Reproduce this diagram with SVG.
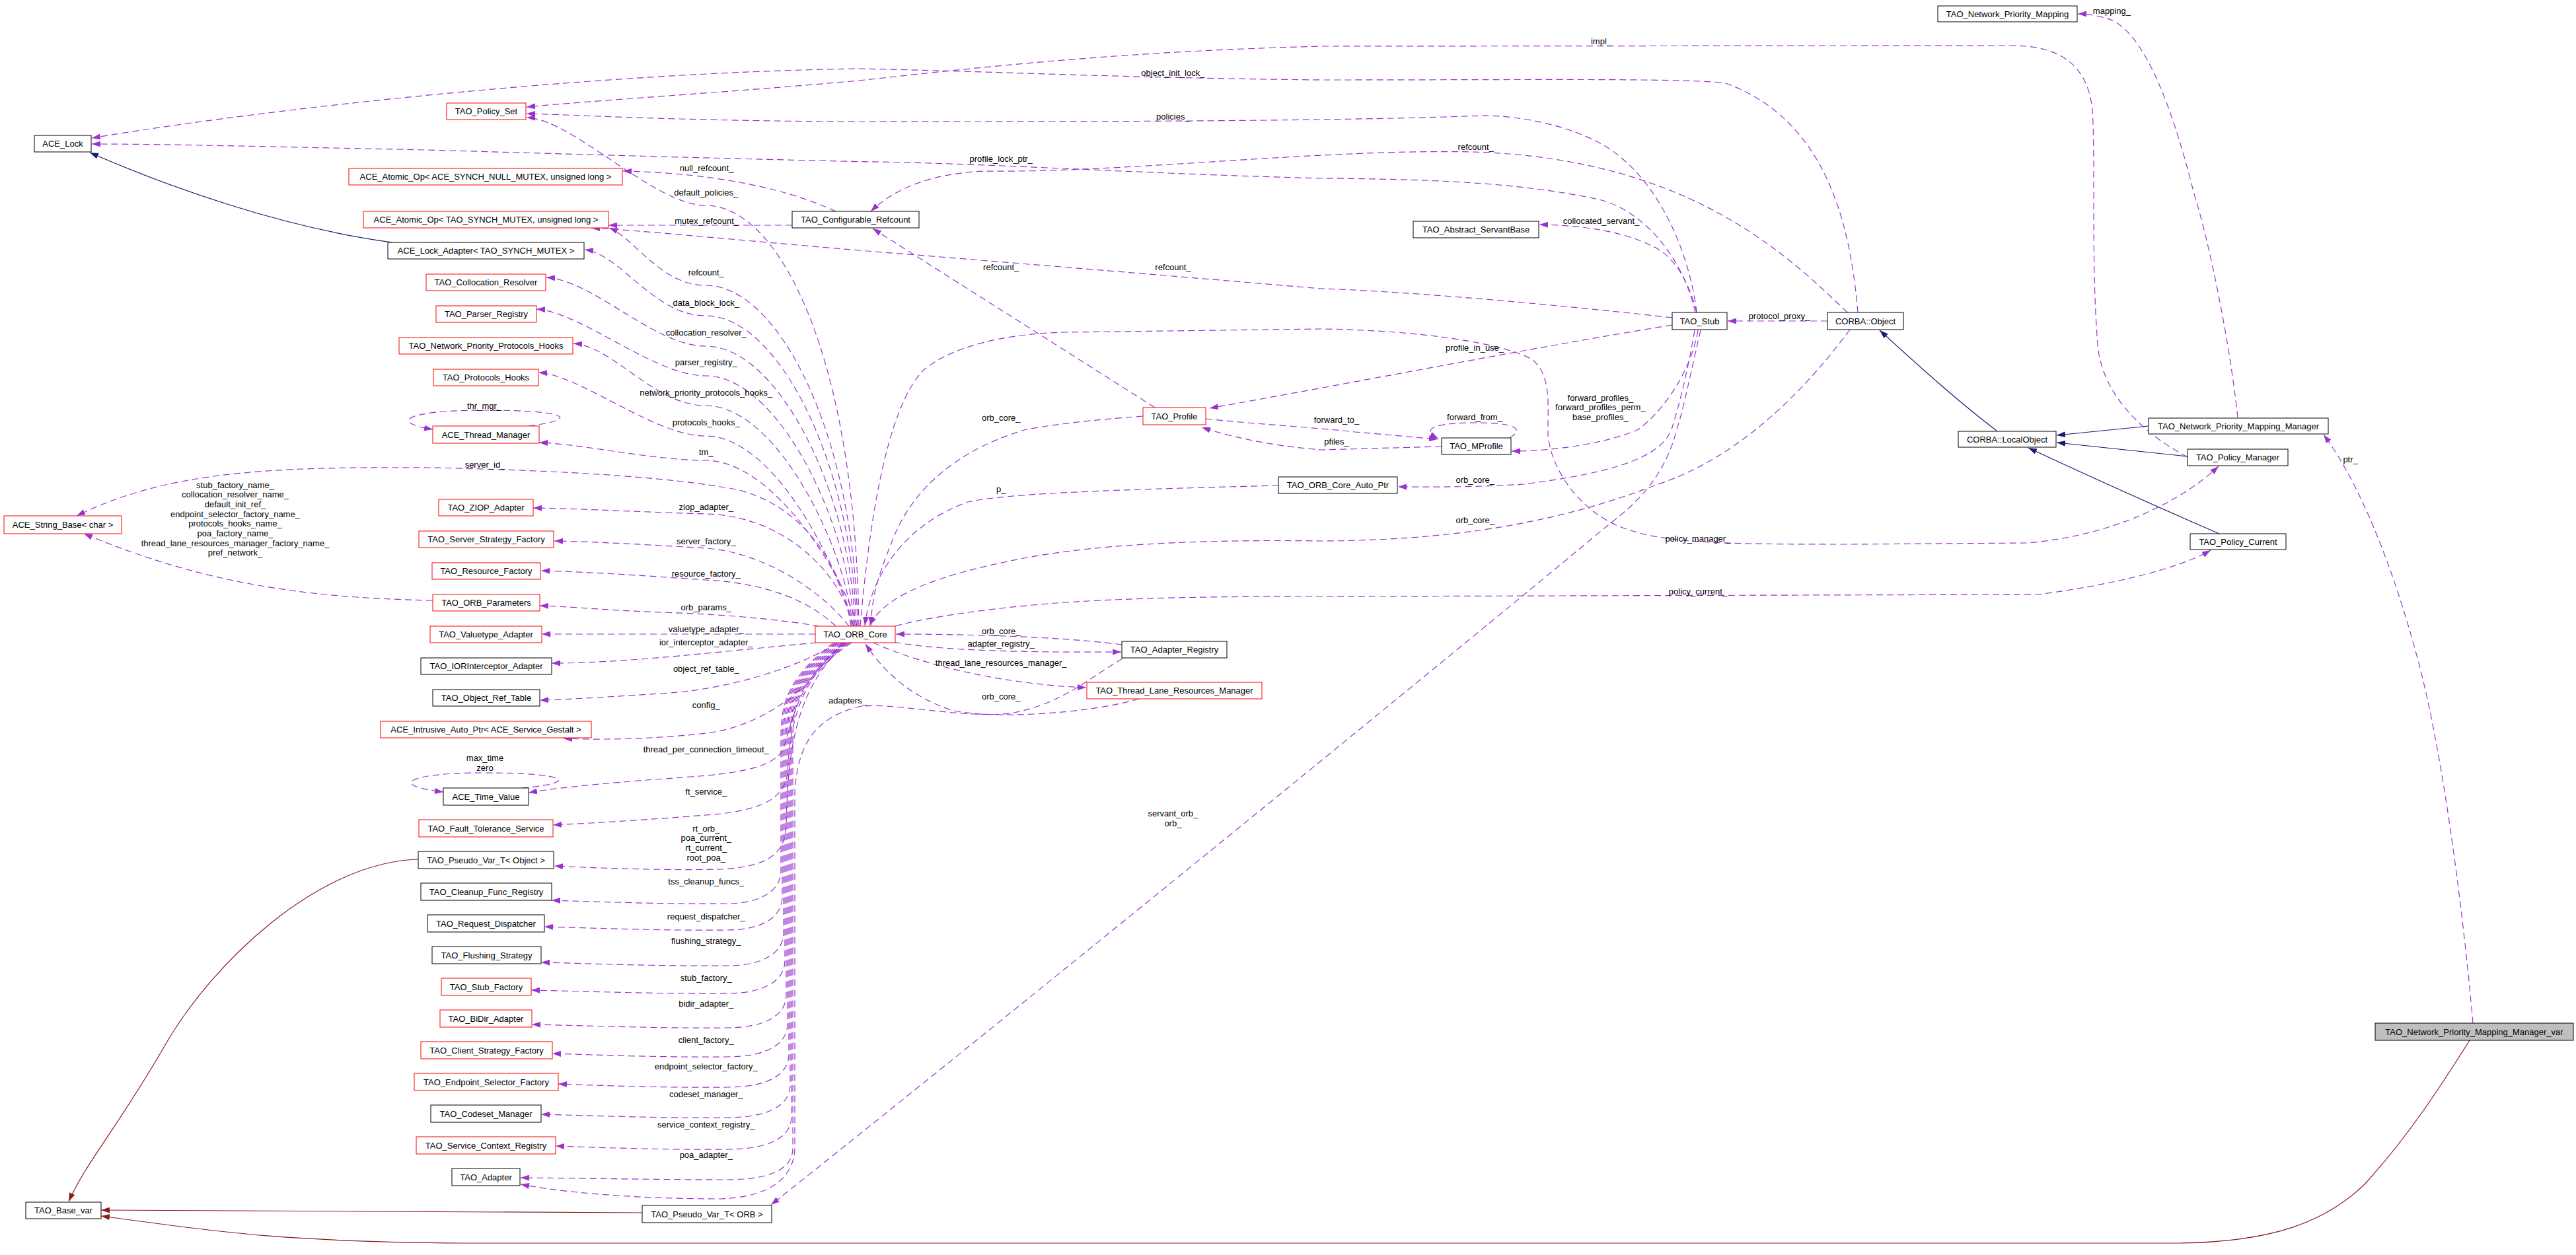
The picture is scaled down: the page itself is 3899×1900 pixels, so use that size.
<svg xmlns="http://www.w3.org/2000/svg" width="3899" height="1900" viewBox="0 0 3899 1900">
<defs>
<style>
.box{fill:#fff;stroke:#000;stroke-width:1}
.red{stroke:#ff0000}
.root{fill:#bfbfbf}
text{font-family:'Liberation Sans',Arial,Helvetica,sans-serif;font-size:13px;fill:#000;text-anchor:middle}
.u{fill:none;stroke:#9a32cd;stroke-width:1.2;stroke-dasharray:10,6;marker-end:url(#au)}
.inh{fill:none;stroke:#191970;stroke-width:1.2;marker-end:url(#ai)}
.pri{fill:none;stroke:#8b1a1a;stroke-width:1.2;marker-end:url(#ar)}
</style>
<marker id="au" viewBox="0 0 13 9" refX="13" refY="4.5" markerWidth="13" markerHeight="9" orient="auto" markerUnits="userSpaceOnUse"><path d="M0,0 L13,4.5 L0,9 z" fill="#9a32cd"/></marker>
<marker id="ai" viewBox="0 0 13 9" refX="13" refY="4.5" markerWidth="13" markerHeight="9" orient="auto" markerUnits="userSpaceOnUse"><path d="M0,0 L13,4.5 L0,9 z" fill="#191970"/></marker>
<marker id="ar" viewBox="0 0 13 9" refX="13" refY="4.5" markerWidth="13" markerHeight="9" orient="auto" markerUnits="userSpaceOnUse"><path d="M0,0 L13,4.5 L0,9 z" fill="#8b1a1a"/></marker>
</defs>
<rect x="0" y="0" width="3899" height="1900" fill="#fff"/>
<g id="edges">
<!-- inheritance -->
<path class="inh" d="M594,367 C430,345 260,285 136,231"/>
<path class="inh" d="M3022,652 C2960,605 2900,550 2845,500"/>
<path class="inh" d="M3252,645 L3113,659"/>
<path class="inh" d="M3311,691 L3113,670"/>
<path class="inh" d="M3359,808 C3260,765 3160,720 3070,678"/>
<!-- private -->
<path class="pri" d="M633,1301 C480,1305 320,1460 250,1582 C180,1704 130,1760 104,1819"/>
<path class="pri" d="M972,1836 L153,1832"/>
<path class="pri" d="M3738,1575 C3700,1635 3650,1715 3579,1793 C3520,1850 3440,1880 3300,1882 L700,1882 C400,1880 300,1860 153,1841"/>
<!-- Configurable_Refcount -->
<path class="u" d="M1265,320 C1190,285 1080,262 943,259"/>
<path class="u" d="M1199,341 L921,341"/>
<path class="u" d="M1748,617 L1321,346"/>
<path class="u" d="M2796,473 C2700,380 2550,240 2230,230 C2000,225 1700,262 1490,259 C1420,262 1360,280 1318,320"/>
<!-- ACE_Lock -->
<path class="u" d="M2812,473 C2800,330 2760,180 2612,126 C2560,118 2300,121 2000,121 C1700,118 1500,108 1300,104 C900,110 400,165 139,209"/>
<path class="u" d="M2566,473 C2545,380 2480,318 2424,303 C2300,275 2150,271 2000,270 C1700,262 1500,247 1300,244.6 C1000,238 700,228 600,226 C400,222 250,218 139,218"/>
<!-- Policy_Set -->
<path class="u" d="M3311,692 C3250,660 3180,600 3175,520 C3165,400 3172,250 3167,166 C3160,100 3120,69 3045,69 L2000,70 C1700,78 1500,100 1300,122 C1100,140 900,152 797,162"/>
<path class="u" d="M2568,473 C2560,400 2520,280 2434,224 C2380,190 2300,175 2245,175 C2000,185 1500,184 1300,184.5 C1000,182 900,175 797,172"/>
<!-- Stub refcount -->
<path class="u" d="M2531,481 C2300,455 2100,440 2000,437 C1800,420 1500,395 1300,379 C1100,362 960,348 895,345"/>
<!-- ORB_Core upper edges -->
<path class="u" d="M1300,948 C1295,540 1180,311 1068,311 C990,311 867,180 797,178"/>
<path class="u" d="M1298,948 C1293,662 1180,432 1068,432 C1000,432 960,360 922,345"/>
<path class="u" d="M1296,948 C1291,708 1180,478 1068,478 C990,478 940,385 885,378"/>
<path class="u" d="M1294,948 C1289,753 1180,524 1068,524 C990,524 900,425 827,420"/>
<path class="u" d="M1292,948 C1287,798 1180,569 1068,569 C990,569 880,472 812,468"/>
<path class="u" d="M1290,948 C1285,844 1180,614 1068,614 C990,614 930,525 868,520"/>
<path class="u" d="M1288,948 C1283,889 1180,660 1068,660 C990,660 880,568 815,564"/>
<path class="u" d="M1297,948 C1290,900 1180,697 1068,697 C990,697 880,672 816,670"/>
<path class="u" d="M1290,948 C1270,840 1200,750 1091,737 C1000,722 850,712 650,708 C400,706 250,715 116,781"/>
<path class="u" d="M1292,948 C1270,860 1180,780 1068,778 C990,776 880,770 807,769"/>
<path class="u" d="M1285,948 C1240,890 1150,835 1068,830 C990,825 900,820 839,819"/>
<path class="u" d="M1265,948 C1220,905 1150,882 1068,878 C980,872 900,866 819,864"/>
<path class="u" d="M1240,948 C1180,938 1100,930 1000,927 C920,924 860,918 817,917"/>
<!-- ORB_Core middle edges -->
<path class="u" d="M1234,960 L820,960"/>
<path class="u" d="M1236,973 C1100,985 950,1004 835,1004"/>
<path class="u" d="M1268,973 C1210,1010 1100,1045 1000,1050 C920,1055 860,1059 817,1060"/>
<path class="u" d="M1275,973 C1220,1050 1150,1100 1069,1110 C980,1120 900,1120 853,1118"/>
<path class="u" d="M1278,973 C1205,1030 1198,1100 1185,1135 C1170,1165 1100,1172 1046,1176 C950,1183 860,1190 800,1200"/>
<path class="u" d="M1280,973 C1200,1035 1195,1120 1192,1170 C1188,1210 1150,1225 1091,1232 C1000,1240 900,1246 837,1249"/>
<path class="u" d="M1283,973 C1200,1040 1192,1150 1190,1250 C1188,1295 1160,1312 1091,1316 C1000,1318 900,1314 839,1311"/>
<!-- ORB_Core lower edges -->
<path class="u" d="M1262,973 C1187,1030 1182,1070 1182,1120 L1182,1318 C1182,1348 1152,1368 1100,1368 C1000,1369 900,1365 835,1363"/>
<path class="u" d="M1265,973 C1189,1030 1184,1070 1184,1120 L1184,1358 C1184,1388 1154,1408 1100,1408 C1000,1409 900,1405 824,1403"/>
<path class="u" d="M1268,973 C1191,1030 1186,1070 1186,1120 L1186,1412 C1186,1442 1156,1462 1100,1462 C1000,1463 900,1459 819,1457"/>
<path class="u" d="M1271,973 C1193,1030 1188,1070 1188,1120 L1188,1454 C1188,1484 1158,1504 1100,1504 C1000,1505 900,1501 804,1499"/>
<path class="u" d="M1274,973 C1195,1030 1190,1070 1190,1120 L1190,1506 C1190,1536 1160,1556 1100,1556 C1000,1557 900,1553 805,1551"/>
<path class="u" d="M1277,973 C1197,1030 1192,1070 1192,1120 L1192,1550 C1192,1580 1162,1600 1100,1600 C1000,1601 900,1597 836,1595"/>
<path class="u" d="M1280,973 C1199,1030 1194,1070 1194,1120 L1194,1596 C1194,1626 1164,1646 1100,1646 C1000,1647 900,1643 845,1641"/>
<path class="u" d="M1283,973 C1201,1030 1196,1070 1196,1120 L1196,1642 C1196,1672 1166,1692 1100,1692 C1000,1693 900,1689 819,1687"/>
<path class="u" d="M1286,973 C1203,1030 1198,1070 1198,1120 L1198,1690 C1198,1720 1168,1740 1100,1740 C1000,1741 900,1737 841,1735"/>
<path class="u" d="M1289,973 C1205,1030 1200,1070 1200,1120 L1200,1738 C1200,1768 1170,1786 1100,1786 C1000,1786 900,1784 788,1783"/>
<!-- adapters_ -->
<path class="u" d="M1699,997 C1650,1025 1610,1065 1530,1080 C1450,1088 1350,1062 1300,1070 C1240,1085 1207,1120 1203,1200 L1203,1740 C1201,1780 1170,1812 1091,1815 C960,1815 850,1805 788,1793"/>
<!-- ORB_Core right side -->
<path class="u" d="M1354,972 C1420,985 1550,988 1697,987"/>
<path class="u" d="M1698,976 C1600,963 1450,960 1356,960"/>
<path class="u" d="M1322,973 C1380,1000 1500,1035 1644,1041"/>
<path class="u" d="M1724,1058 C1650,1080 1500,1090 1440,1075 C1380,1055 1340,1020 1310,975"/>
<path class="u" d="M1935,735 C1750,740 1530,745 1465,760 C1380,790 1320,860 1309,947"/>
<path class="u" d="M1730,630 C1650,636 1600,642 1554,650 C1450,680 1380,740 1350,820 C1330,870 1320,900 1318,947"/>
<path class="u" d="M2800,499 C2740,580 2640,690 2510,733 C2400,775 2250,818 2000,819 C1800,816 1650,826 1550,845 C1420,870 1340,900 1316,947"/>
<path class="u" d="M1302,948 C1315,800 1340,620 1398,560 C1440,525 1520,505 1612,503 L2000,498 C2150,500 2280,520 2320,545 C2350,570 2342,620 2343,660 C2350,720 2400,780 2459,800 C2520,822 2600,824 2800,824 L3070,822 C3200,810 3300,760 3358,706"/>
<path class="u" d="M1355,948 C1400,935 1500,920 1612,912 C1750,903 1900,903 2000,903 L3085,900 C3200,885 3300,860 3346,833"/>
<!-- TAO_Stub edges -->
<path class="u" d="M2568,473 C2555,420 2530,385 2500,372 C2460,352 2400,341 2330,340"/>
<path class="u" d="M2766,486 L2615,486"/>
<path class="u" d="M2531,492 C2300,530 2100,570 1831,618"/>
<path class="u" d="M2570,500 C2560,560 2520,620 2480,650 C2430,672 2350,683 2288,683"/>
<path class="u" d="M2565,500 C2555,560 2540,620 2530,650 C2515,690 2450,715 2306,733 C2230,738 2170,737 2116,737"/>
<path class="u" d="M2574,500 C2560,560 2548,620 2538,650 C2520,720 2480,760 2434,795 C2200,990 1500,1560 1167,1824"/>
<!-- Profile / MProfile -->
<path class="u" d="M1825,634 C1900,642 2000,648 2051,654 C2100,658 2140,662 2176,665"/>
<path class="u" d="M2285,663 C2310,648 2290,640 2232,640 C2170,640 2150,650 2177,664"/>
<path class="u" d="M2182,676 L2000,681 C1947,677 1880,667 1819,647"/>
<!-- right side -->
<path class="u" d="M3387,632 C3375,520 3345,370 3320,290 C3290,170 3250,60 3200,32 C3180,24 3160,21 3145,21"/>
<path class="u" d="M3743,1549 C3730,1400 3700,1150 3660,1000 C3620,850 3570,730 3517,658"/>
<!-- String_Base from ORB_Parameters -->
<path class="u" d="M655,909 C450,905 300,880 127,808"/>
<!-- self loops -->
<path class="u" d="M800,645 C880,635 860,621 734,621 C610,621 590,640 655,650"/>
<path class="u" d="M790,1193 C880,1185 860,1170 734,1170 C610,1170 590,1190 671,1199"/>
<!-- edge labels -->
<text x="1069.6" y="259">null_refcount_</text>
<text x="1068.75" y="296">default_policies_</text>
<text x="1069.6" y="339">mutex_refcount_</text>
<text x="1068.75" y="417">refcount_</text>
<text x="1068.75" y="463">data_block_lock_</text>
<text x="1068.75" y="508">collocation_resolver_</text>
<text x="1068.75" y="553">parser_registry_</text>
<text x="1068.75" y="599">network_priority_protocols_hooks_</text>
<text x="1068.75" y="644">protocols_hooks_</text>
<text x="733" y="619">thr_mgr_</text>
<text x="1068.75" y="689">tm_</text>
<text x="734" y="708">server_id_</text>
<text x="356" y="739">stub_factory_name_</text>
<text x="356" y="753">collocation_resolver_name_</text>
<text x="356" y="768">default_init_ref_</text>
<text x="356" y="783">endpoint_selector_factory_name_</text>
<text x="356" y="797">protocols_hooks_name_</text>
<text x="356" y="812">poa_factory_name_</text>
<text x="356" y="827">thread_lane_resources_manager_factory_name_</text>
<text x="356" y="841">pref_network_</text>
<text x="1068.75" y="772">ziop_adapter_</text>
<text x="1068.75" y="824">server_factory_</text>
<text x="1068.75" y="873">resource_factory_</text>
<text x="1068.75" y="924">orb_params_</text>
<text x="1068.75" y="957">valuetype_adapter_</text>
<text x="1068.75" y="977">ior_interceptor_adapter_</text>
<text x="1068.75" y="1017">object_ref_table_</text>
<text x="1068.75" y="1072">config_</text>
<text x="1068.75" y="1139">thread_per_connection_timeout_</text>
<text x="734" y="1152">max_time</text>
<text x="734" y="1167">zero</text>
<text x="1068.75" y="1203">ft_service_</text>
<text x="1068.75" y="1259">rt_orb_</text>
<text x="1068.75" y="1273">poa_current_</text>
<text x="1068.75" y="1288">rt_current_</text>
<text x="1068.75" y="1303">root_poa_</text>
<text x="1068.75" y="1339">tss_cleanup_funcs_</text>
<text x="1068.75" y="1392">request_dispatcher_</text>
<text x="1068.75" y="1429">flushing_strategy_</text>
<text x="1068.75" y="1485">stub_factory_</text>
<text x="1068.75" y="1524">bidir_adapter_</text>
<text x="1068.75" y="1579">client_factory_</text>
<text x="1068.75" y="1619">endpoint_selector_factory_</text>
<text x="1068.75" y="1661">codeset_manager_</text>
<text x="1068.75" y="1707">service_context_registry_</text>
<text x="1068.75" y="1753">poa_adapter_</text>
<text x="1283" y="1065">adapters_</text>
<text x="1775.4" y="115">object_init_lock_</text>
<text x="1775.4" y="181">policies_</text>
<text x="1515.2" y="245">profile_lock_ptr_</text>
<text x="1515.2" y="409">refcount_</text>
<text x="1775.4" y="409">refcount_</text>
<text x="1515.2" y="637">orb_core_</text>
<text x="1515.2" y="745">p_</text>
<text x="1515.2" y="960">orb_core_</text>
<text x="1515.2" y="979">adapter_registry_</text>
<text x="1515.2" y="1008">thread_lane_resources_manager_</text>
<text x="1515.2" y="1059">orb_core_</text>
<text x="1775.4" y="1236">servant_orb_</text>
<text x="1775.4" y="1251">orb_</text>
<text x="2423.5" y="67">impl_</text>
<text x="2233.7" y="227">refcount_</text>
<text x="2423.5" y="339">collocated_servant_</text>
<text x="2692.9" y="483">protocol_proxy_</text>
<text x="2232" y="531">profile_in_use_</text>
<text x="2422.4" y="607">forward_profiles_</text>
<text x="2422.4" y="621">forward_profiles_perm_</text>
<text x="2422.4" y="636">base_profiles_</text>
<text x="2232" y="636">forward_from_</text>
<text x="2023" y="640">forward_to_</text>
<text x="2023" y="673">pfiles_</text>
<text x="2232.7" y="731">orb_core_</text>
<text x="2232.7" y="792">orb_core_</text>
<text x="2569.9" y="820">policy_manager_</text>
<text x="2569.9" y="900">policy_current_</text>
<text x="3196.4" y="21">mapping_</text>
<text x="3557.6" y="700">ptr_</text>
</g>
<g id="n_ACE_Lock"><rect class="box" x="52" y="205" width="86" height="25"/><text x="95" y="222">ACE_Lock</text></g>
<g id="n_TAO_Policy_Set"><rect class="box red" x="676" y="156" width="120" height="25"/><text x="736" y="173">TAO_Policy_Set</text></g>
<g id="n_ACE_Atomic_Op_NULL"><rect class="box red" x="528" y="255" width="414" height="25"/><text x="735" y="272">ACE_Atomic_Op&lt; ACE_SYNCH_NULL_MUTEX, unsigned long &gt;</text></g>
<g id="n_ACE_Atomic_Op_TAO"><rect class="box red" x="550" y="320" width="371" height="25"/><text x="735.5" y="337">ACE_Atomic_Op&lt; TAO_SYNCH_MUTEX, unsigned long &gt;</text></g>
<g id="n_ACE_Lock_Adapter"><rect class="box" x="587" y="367" width="297" height="25"/><text x="735.5" y="384">ACE_Lock_Adapter&lt; TAO_SYNCH_MUTEX &gt;</text></g>
<g id="n_TAO_Collocation_Resolver"><rect class="box red" x="645" y="415" width="181" height="25"/><text x="735.5" y="432">TAO_Collocation_Resolver</text></g>
<g id="n_TAO_Parser_Registry"><rect class="box red" x="660" y="463" width="152" height="25"/><text x="736" y="480">TAO_Parser_Registry</text></g>
<g id="n_TAO_Network_Priority_Protocols_Hooks"><rect class="box red" x="604" y="511" width="263" height="25"/><text x="735.5" y="528">TAO_Network_Priority_Protocols_Hooks</text></g>
<g id="n_TAO_Protocols_Hooks"><rect class="box red" x="656" y="559" width="159" height="25"/><text x="735.5" y="576">TAO_Protocols_Hooks</text></g>
<g id="n_ACE_Thread_Manager"><rect class="box red" x="655" y="645" width="161" height="26"/><text x="735.5" y="662.5">ACE_Thread_Manager</text></g>
<g id="n_ACE_String_Base"><rect class="box red" x="6" y="781" width="178" height="27"/><text x="95" y="799">ACE_String_Base&lt; char &gt;</text></g>
<g id="n_TAO_ZIOP_Adapter"><rect class="box red" x="664" y="756" width="143" height="25"/><text x="735.5" y="773">TAO_ZIOP_Adapter</text></g>
<g id="n_TAO_Server_Strategy_Factory"><rect class="box red" x="634" y="804" width="204" height="25"/><text x="736" y="821">TAO_Server_Strategy_Factory</text></g>
<g id="n_TAO_Resource_Factory"><rect class="box red" x="654" y="852" width="164" height="25"/><text x="736" y="869">TAO_Resource_Factory</text></g>
<g id="n_TAO_ORB_Parameters"><rect class="box red" x="655" y="900" width="162" height="25"/><text x="736" y="917">TAO_ORB_Parameters</text></g>
<g id="n_TAO_Valuetype_Adapter"><rect class="box red" x="651" y="948" width="169" height="25"/><text x="735.5" y="965">TAO_Valuetype_Adapter</text></g>
<g id="n_TAO_IORInterceptor_Adapter"><rect class="box" x="637" y="996" width="198" height="25"/><text x="736" y="1013">TAO_IORInterceptor_Adapter</text></g>
<g id="n_TAO_Object_Ref_Table"><rect class="box" x="655" y="1044" width="162" height="25"/><text x="736" y="1061">TAO_Object_Ref_Table</text></g>
<g id="n_ACE_Intrusive_Auto_Ptr"><rect class="box red" x="576" y="1092" width="319" height="25"/><text x="735.5" y="1109">ACE_Intrusive_Auto_Ptr&lt; ACE_Service_Gestalt &gt;</text></g>
<g id="n_ACE_Time_Value"><rect class="box" x="671" y="1193" width="129" height="26"/><text x="735.5" y="1210.5">ACE_Time_Value</text></g>
<g id="n_TAO_Fault_Tolerance_Service"><rect class="box red" x="634" y="1241" width="203" height="26"/><text x="735.5" y="1258.5">TAO_Fault_Tolerance_Service</text></g>
<g id="n_TAO_Pseudo_Var_T_Object"><rect class="box" x="633" y="1289" width="205" height="26"/><text x="735.5" y="1306.5">TAO_Pseudo_Var_T&lt; Object &gt;</text></g>
<g id="n_TAO_Cleanup_Func_Registry"><rect class="box" x="637" y="1337" width="198" height="26"/><text x="736" y="1354.5">TAO_Cleanup_Func_Registry</text></g>
<g id="n_TAO_Request_Dispatcher"><rect class="box" x="647" y="1385" width="177" height="26"/><text x="735.5" y="1402.5">TAO_Request_Dispatcher</text></g>
<g id="n_TAO_Flushing_Strategy"><rect class="box" x="654" y="1433" width="165" height="26"/><text x="736.5" y="1450.5">TAO_Flushing_Strategy</text></g>
<g id="n_TAO_Stub_Factory"><rect class="box red" x="668" y="1481" width="136" height="26"/><text x="736" y="1498.5">TAO_Stub_Factory</text></g>
<g id="n_TAO_BiDir_Adapter"><rect class="box red" x="666" y="1529" width="139" height="26"/><text x="735.5" y="1546.5">TAO_BiDir_Adapter</text></g>
<g id="n_TAO_Client_Strategy_Factory"><rect class="box red" x="637" y="1577" width="199" height="26"/><text x="736.5" y="1594.5">TAO_Client_Strategy_Factory</text></g>
<g id="n_TAO_Endpoint_Selector_Factory"><rect class="box red" x="627" y="1625" width="218" height="26"/><text x="736" y="1642.5">TAO_Endpoint_Selector_Factory</text></g>
<g id="n_TAO_Codeset_Manager"><rect class="box" x="652" y="1673" width="167" height="26"/><text x="735.5" y="1690.5">TAO_Codeset_Manager</text></g>
<g id="n_TAO_Service_Context_Registry"><rect class="box red" x="630" y="1721" width="211" height="26"/><text x="735.5" y="1738.5">TAO_Service_Context_Registry</text></g>
<g id="n_TAO_Adapter"><rect class="box" x="684" y="1769" width="103" height="26"/><text x="735.5" y="1786.5">TAO_Adapter</text></g>
<g id="n_TAO_Pseudo_Var_T_ORB"><rect class="box" x="972" y="1825" width="196" height="26"/><text x="1070" y="1842.5">TAO_Pseudo_Var_T&lt; ORB &gt;</text></g>
<g id="n_TAO_Base_var"><rect class="box" x="39" y="1820" width="114" height="25"/><text x="96" y="1837">TAO_Base_var</text></g>
<g id="n_TAO_ORB_Core"><rect class="box red" x="1234" y="948" width="121" height="25"/><text x="1294.5" y="965">TAO_ORB_Core</text></g>
<g id="n_TAO_Configurable_Refcount"><rect class="box" x="1199" y="320" width="192" height="25"/><text x="1295" y="337">TAO_Configurable_Refcount</text></g>
<g id="n_TAO_Profile"><rect class="box red" x="1730" y="617" width="95" height="26"/><text x="1777.5" y="634.5">TAO_Profile</text></g>
<g id="n_TAO_Abstract_ServantBase"><rect class="box" x="2139" y="335" width="190" height="25"/><text x="2234" y="352">TAO_Abstract_ServantBase</text></g>
<g id="n_TAO_Stub"><rect class="box" x="2531" y="473" width="83" height="26"/><text x="2572.5" y="490.5">TAO_Stub</text></g>
<g id="n_CORBA_Object"><rect class="box" x="2766" y="473" width="115" height="26"/><text x="2823.5" y="490.5">CORBA::Object</text></g>
<g id="n_TAO_MProfile"><rect class="box" x="2182" y="663" width="105" height="25"/><text x="2234.5" y="680">TAO_MProfile</text></g>
<g id="n_TAO_ORB_Core_Auto_Ptr"><rect class="box" x="1935" y="722" width="180" height="25"/><text x="2025" y="739">TAO_ORB_Core_Auto_Ptr</text></g>
<g id="n_TAO_Adapter_Registry"><rect class="box" x="1698" y="971" width="159" height="25"/><text x="1777.5" y="988">TAO_Adapter_Registry</text></g>
<g id="n_TAO_Thread_Lane_Resources_Manager"><rect class="box red" x="1645" y="1033" width="265" height="25"/><text x="1777.5" y="1050">TAO_Thread_Lane_Resources_Manager</text></g>
<g id="n_TAO_Network_Priority_Mapping"><rect class="box" x="2933" y="9" width="211" height="24"/><text x="3038.5" y="25.5">TAO_Network_Priority_Mapping</text></g>
<g id="n_CORBA_LocalObject"><rect class="box" x="2964" y="653" width="148" height="24"/><text x="3038" y="669.5">CORBA::LocalObject</text></g>
<g id="n_TAO_Network_Priority_Mapping_Manager"><rect class="box" x="3252" y="633" width="272" height="24"/><text x="3388" y="649.5">TAO_Network_Priority_Mapping_Manager</text></g>
<g id="n_TAO_Policy_Manager"><rect class="box" x="3311" y="680" width="152" height="25"/><text x="3387" y="697">TAO_Policy_Manager</text></g>
<g id="n_TAO_Policy_Current"><rect class="box" x="3315" y="808" width="145" height="24"/><text x="3387.5" y="824.5">TAO_Policy_Current</text></g>
<g id="n_TAO_Network_Priority_Mapping_Manager_var"><rect class="box root" x="3595" y="1549" width="300" height="26"/><text x="3745" y="1566.5">TAO_Network_Priority_Mapping_Manager_var</text></g>
</svg>
